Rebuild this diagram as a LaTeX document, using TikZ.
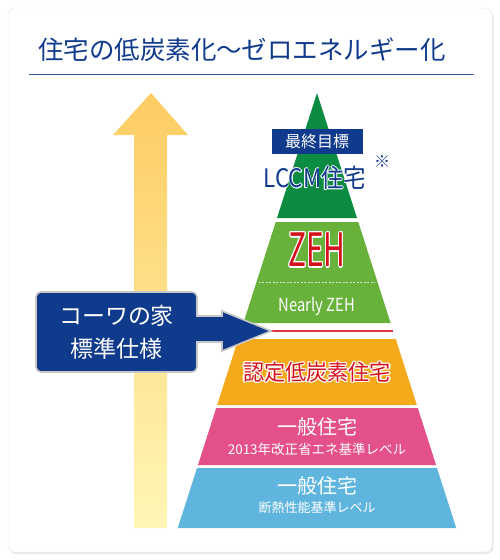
\documentclass[tikz,border=0pt]{standalone}
\usepackage{fontspec}
\setmainfont{Noto Sans CJK JP}
\usepackage{graphicx}
\usetikzlibrary{positioning}
\definecolor{KowaNavy}{RGB}{16,58,140}
\definecolor{LeafDark}{RGB}{12,140,66}
\definecolor{LeafLight}{RGB}{104,178,60}
\definecolor{SunOrange}{RGB}{245,170,28}
\definecolor{RosePink}{RGB}{228,80,138}
\definecolor{SkyBlue}{RGB}{96,181,223}
\definecolor{AlertRed}{RGB}{212,18,30}
\definecolor{ArrowTop}{RGB}{253,204,98}
\definecolor{ArrowBot}{RGB}{255,246,182}

% text with a thin rim: #1 rim width (pt), #2 rim colour, #3 text
\newcommand{\rimtext}[3]{%
  \foreach \ang in {0,45,...,315}{%
    \pgfmathsetmacro\rimdx{#1*cos(\ang)}%
    \pgfmathsetmacro\rimdy{#1*sin(\ang)}%
    \rlap{\hspace*{\rimdx pt}\raisebox{\rimdy pt}{\color{#2}#3}}}%
  #3}

\begin{document}
\begin{tikzpicture}[x=1pt,y=-1pt,
  bandlabel/.style={text=white, inner sep=0pt},
  redlabel/.style={text=AlertRed, inner sep=0pt},
  navyframe/.style={fill=KowaNavy, draw=black!22, line width=1.6}]

\def\apx{317}   % apex of the pyramid
\def\apy{93}
\def\slope{0.32} % half width per unit of height

\useasboundingbox (0,0) rectangle (500,560);

% Card
\fill[black!9, rounded corners=7] (9.5,9.5) rectangle (493.5,554);
\draw[black!10, fill=white, rounded corners=6] (8,8) rectangle (492,552);

% Title
\node[font=\fontsize{25.5}{30}\selectfont, text=KowaNavy] (title) at (242,50) {住宅の低炭素化〜ゼロエネルギー化};
\draw[KowaNavy!85, line width=0.8] (29,74) -- (474,74);

% Rising arrow
\shade[top color=ArrowTop, bottom color=ArrowBot] (134,528) -- (134,135) -- (113,135) -- (151,93) -- (188,135) -- (167,135) -- (167,528) -- cycle;

% --- Pyramid bands ---
\fill[LeafDark] (\apx,\apy) -- ({\apx+\slope*(218-\apy)},218) -- ({\apx-\slope*(218-\apy)},218) -- cycle;
\fill[LeafLight] ({\apx-\slope*(222-\apy)},222) -- ({\apx+\slope*(222-\apy)},222) -- ({\apx+\slope*(323-\apy)},323) -- ({\apx-\slope*(323-\apy)},323) -- cycle;
\draw[white!70!LeafLight, dash pattern=on 2pt off 1.5pt, line width=0.8] ({\apx-\slope*(282-\apy)+2},282) -- ({\apx+\slope*(282-\apy)-2},282);
\draw[AlertRed!85, line width=1.3] ({\apx-\slope*(331-\apy)},331) -- ({\apx+\slope*(331-\apy)},331);
\fill[SunOrange] ({\apx-\slope*(339-\apy)},339) -- ({\apx+\slope*(339-\apy)},339) -- ({\apx+\slope*(405-\apy)},405) -- ({\apx-\slope*(405-\apy)},405) -- cycle;
\fill[RosePink] ({\apx-\slope*(408-\apy)},408) -- ({\apx+\slope*(408-\apy)},408) -- ({\apx+\slope*(465-\apy)},465) -- ({\apx-\slope*(465-\apy)},465) -- cycle;
\fill[SkyBlue] ({\apx-\slope*(468-\apy)},468) -- ({\apx+\slope*(468-\apy)},468) -- ({\apx+\slope*(528-\apy)},528) -- ({\apx-\slope*(528-\apy)},528) -- cycle;

% --- Labels ---
\node[fill=KowaNavy, text=white, minimum width=91, minimum height=25, inner sep=0pt, font=\fontsize{16}{18}\selectfont] (goal) at (317,141.5) {最終目標};
\node[text=KowaNavy, inner sep=0pt, font=\fontsize{25.5}{28}\selectfont] (lccm) at (315,178) {\scalebox{0.88}[1]{\rimtext{0.8}{white}{LCCM住宅}}};
\node[text=KowaNavy, inner sep=0pt, font=\fontsize{16}{17}\selectfont] (note) at (382,162) {※};
\node[redlabel, font=\fontsize{46}{48}\selectfont] (zeh) at (317,250) {\scalebox{0.65}[1]{\rimtext{1.6}{white}{ZEH}}};
\node[bandlabel, font=\fontsize{18}{20}\selectfont] (nzeh) at (317,306) {\scalebox{0.82}[1]{Nearly ZEH}};
\node[redlabel, font=\fontsize{22}{24}\selectfont] (lowc) at (317,372) {\scalebox{0.96}[1]{\rimtext{1.3}{white}{認定低炭素住宅}}};
\node[bandlabel, font=\fontsize{20}{22}\selectfont] (gen13) at (317,427) {一般住宅};
\node[bandlabel, font=\fontsize{13.5}{15}\selectfont] (gen13note) at (317,449) {2013年改正省エネ基準レベル};
\node[bandlabel, font=\fontsize{20}{22}\selectfont] (genins) at (317,486) {一般住宅};
\node[bandlabel, font=\fontsize{13}{15}\selectfont] (geninsnote) at (317,508) {断熱性能基準レベル};

% Kowa standard callout
\node[navyframe, rounded corners=5, minimum width=161, minimum height=80, inner sep=0pt, text=white, align=center, font=\fontsize{23}{33}\selectfont] (std) at (116.5,332) {コーワの家\\標準仕様};
\coordinate (stdtip) at (271,331);
\draw[navyframe, line join=miter] (std.east) ++(0,-16) -- ([xshift=-49pt,yshift=15pt]stdtip) -- ([xshift=-49pt,yshift=20pt]stdtip) -- (stdtip) -- ([xshift=-49pt,yshift=-20pt]stdtip) -- ([xshift=-49pt,yshift=-11pt]stdtip) -- ([yshift=-10pt]std.east) -- cycle;
\fill[KowaNavy] ([xshift=-2pt,yshift=15.2pt]std.east) rectangle ([xshift=1.5pt,yshift=-9.2pt]std.east);

\end{tikzpicture}
\end{document}
